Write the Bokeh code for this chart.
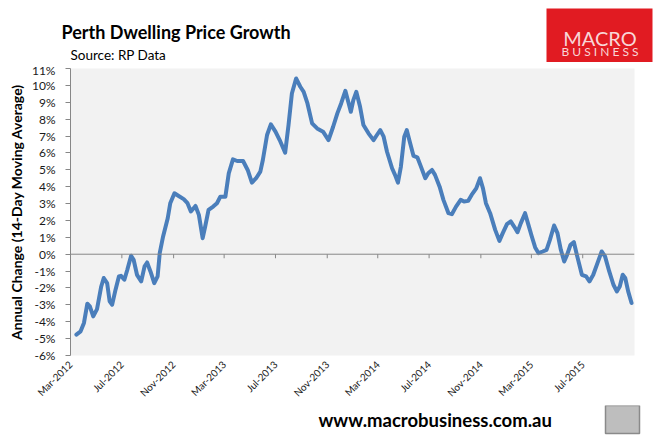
import pandas as pd
from math import pi

from bokeh.embed import file_html
from bokeh.layouts import column
from bokeh.models import (ColumnDataSource, DatetimeTickFormatter, FixedTicker, Label, Plot,
                          PrintfTickFormatter, Range1d, SingleIntervalTicker, Span)
from bokeh.plotting import figure
from bokeh.resources import INLINE

# Perth dwelling prices, annual change (%), 14-day moving average
start_date = "2012-03-01"
day_offsets = [
    14, 24, 32, 40, 46, 54, 63, 73, 79, 87, 93, 99, 107, 115, 120, 128, 135, 144, 150, 158,
    168, 176, 182, 190, 199, 207, 212, 220, 231, 237, 247, 257, 269, 278, 286, 297, 305, 314,
    320, 328, 339, 348, 356, 368, 376, 386, 396, 410, 421, 431, 441, 451,
    457, 467, 476, 487, 497, 510, 518, 526, 536, 546, 554, 563, 574, 586, 600, 613, 624, 634,
    643, 653, 661, 666, 672, 679, 688, 696, 708, 720, 728, 736, 744, 752, 764, 771, 778, 785,
    793, 799, 807, 815, 824, 831, 843, 850, 859, 866, 877, 886, 898,
    906, 916, 927, 935, 945, 953, 964, 973, 980, 987, 997, 1009, 1019, 1027, 1037, 1046, 1054,
    1062, 1070, 1080, 1088, 1096, 1104, 1112, 1122, 1131, 1139, 1149, 1157, 1165, 1173, 1180,
    1188, 1196, 1204, 1215, 1225, 1233, 1242, 1252, 1262, 1270, 1280, 1290, 1298, 1305, 1312,
    1318, 1325, 1333,
]
growth = [
    -4.76, -4.57, -4.07, -2.93, -3.09, -3.68, -3.25, -1.91, -1.41, -1.71, -2.79, -2.99, -2.10,
    -1.32, -1.28, -1.51, -0.92, -0.09, -0.33, -1.22, -1.61, -0.72, -0.49, -1.02, -1.71, -1.31,
    0.06, 1.05, 2.13, 3.02, 3.61, 3.45, 3.26, 3.02, 2.53, 2.86, 2.33, 0.95, 1.64, 2.62, 2.82,
    3.02, 3.41, 3.41, 4.79, 5.62, 5.52, 5.52, 4.99, 4.24, 4.50, 4.89,
    5.58, 7.06, 7.69, 7.26, 6.76, 6.01, 7.65, 9.52, 10.41, 9.92, 9.62, 8.93, 7.75, 7.45, 7.26,
    6.76, 7.55, 8.34, 8.93, 9.68, 8.93, 8.44, 9.13, 9.62, 8.73, 7.65, 7.16, 6.76, 7.06, 7.35,
    6.96, 6.07, 5.09, 4.70, 4.24, 5.19, 6.96, 7.35, 6.57, 5.82, 5.74, 5.29, 4.50, 4.79, 4.99,
    4.70, 4.00, 3.22, 2.43,
    2.37, 2.82, 3.22, 3.12, 3.16, 3.51, 3.90, 4.50, 3.90, 3.02, 2.43, 1.44, 0.79, 1.25, 1.78,
    1.94, 1.64, 1.30, 1.84, 2.43, 1.74, 1.05, 0.40, 0.06, 0.16, 0.26, 0.85, 1.70, 1.25, 0.26,
    -0.43, -0.03, 0.56, 0.71, -0.13, -1.22, -1.31, -1.61, -1.22, -0.53, 0.16, -0.13, -1.02,
    -1.81, -2.20, -1.91, -1.22, -1.41, -2.20, -2.89,
]
tick_months = [
    "2012-03-01", "2012-07-01", "2012-11-01", "2013-03-01", "2013-07-01", "2013-11-01",
    "2014-03-01", "2014-07-01", "2014-11-01", "2015-03-01", "2015-07-01",
]

dates = pd.Timestamp(start_date) + pd.to_timedelta(day_offsets, unit="D")
source = ColumnDataSource(dict(date=dates, growth=growth))
tick_dates = pd.to_datetime(tick_months)

W = 660
HEAD_H, FOOT_Y = 62, 405
FL, FR, FT, FB = 70, 634, 68, 356
FONT = "Lato"
GREY = "#878787"
CAN_UNALIGN = "frame_align" in Plot.properties()


def blank(y0, y1):
    # page-pixel canvas strip; frame covers the whole strip when frames are not aligned
    xr = Range1d(0, W) if CAN_UNALIGN else Range1d(FL, FR)
    f = figure(width=W, height=y1 - y0, x_range=xr, y_range=Range1d(y1, y0),
               x_axis_location=None, y_axis_location=None, min_border=0,
               output_backend="svg", toolbar_location=None)
    if CAN_UNALIGN:
        f.frame_align = False
    f.outline_line_color = None
    f.grid.grid_line_color = None
    f.background_fill_color = "white"
    return f


# header: title, source line and logo
head = blank(0, HEAD_H)
head.add_layout(Label(x=61, y=31, text="Perth Dwelling Price Growth", text_font=FONT,
                      text_font_size="18px", text_font_style="bold", text_color="black",
                      text_baseline="alphabetic"))
head.add_layout(Label(x=70, y=54.5, text="Source: RP Data", text_font=FONT,
                      text_font_size="13.5px", text_color="black", text_baseline="alphabetic"))
head.quad(left=546, right=652, top=8, bottom=HEAD_H, fill_color="#E11B22", line_color=None)
head.add_layout(Label(x=599.5, y=37.5, text="MACRO", text_font=FONT, text_font_size="20px",
                      text_color="#F8D6D7", text_align="center", text_baseline="alphabetic"))
head.add_layout(Label(x=599.5, y=51, text="B U S I N E S S", text_font=FONT,
                      text_font_size="12px", text_color="#F8D6D7", text_align="center",
                      text_baseline="alphabetic"))

# main chart
p = figure(width=W, height=FOOT_Y - HEAD_H, x_axis_type="datetime",
           x_range=Range1d(pd.Timestamp("2012-03-01"), pd.Timestamp("2015-11-01")),
           y_range=Range1d(-6, 11),
           min_border_left=FL, min_border_right=W - FR,
           min_border_top=FT - HEAD_H, min_border_bottom=FOOT_Y - FB,
           output_backend="svg", toolbar_location=None)

p.background_fill_color = "#F2F2F2"
p.border_fill_color = "white"
p.outline_line_color = None
p.grid.grid_line_color = None

p.yaxis.ticker = SingleIntervalTicker(interval=1)
p.yaxis.formatter = PrintfTickFormatter(format="%d%%")
p.yaxis.axis_line_color = GREY
p.yaxis.major_tick_line_color = GREY
p.yaxis.major_tick_out = 5
p.yaxis.major_tick_in = 0
p.yaxis.minor_tick_line_color = None
p.yaxis.major_label_standoff = 10
p.yaxis.major_label_text_font = FONT
p.yaxis.major_label_text_font_size = "12px"
p.yaxis.major_label_text_color = "#1a1a1a"
p.yaxis.axis_label = "Annual Change (14-Day Moving Average)"
p.yaxis.axis_label_text_font = FONT
p.yaxis.axis_label_text_font_style = "bold"
p.yaxis.axis_label_text_font_size = "14px"
p.yaxis.axis_label_text_color = "black"
p.yaxis.axis_label_standoff = 4

p.xaxis.ticker = FixedTicker(ticks=[t.value / 1e6 for t in tick_dates])
fmt = "%b-%Y"
p.xaxis.formatter = DatetimeTickFormatter(days=fmt, months=fmt, years=fmt)
p.xaxis.axis_line_color = None
p.xaxis.major_tick_line_color = None
p.xaxis.major_tick_out = 0
p.xaxis.major_tick_in = 0
p.xaxis.minor_tick_line_color = None
p.xaxis.minor_tick_out = 0
p.xaxis.major_label_orientation = pi / 4
p.xaxis.major_label_standoff = 7
p.xaxis.major_label_text_font = FONT
p.xaxis.major_label_text_font_size = "10px"
p.xaxis.major_label_text_color = "#1a1a1a"

p.add_layout(Span(location=0, dimension="width", line_color=GREY, line_width=1))
p.segment(x0=tick_dates, y0=0, x1=tick_dates, y1=-0.24, line_color=GREY, line_width=1)

p.line("date", "growth", source=source, line_width=4, line_color="#4A7EBB",
       line_join="round", line_cap="round")

# footer: site address and badge
foot = blank(FOOT_Y, 436)
foot.add_layout(Label(x=318, y=419, text="www.macrobusiness.com.au", text_font=FONT,
                      text_font_size="18.5px", text_font_style="bold", text_color="black",
                      text_baseline="alphabetic"))
foot.quad(left=605, right=639, top=FOOT_Y, bottom=433, fill_color="#BEBEBE",
          line_color="#8A8A8A", line_width=1.5)

page = column(head, p, foot, spacing=0)
open("out.html", "w").write(file_html(page, INLINE))
